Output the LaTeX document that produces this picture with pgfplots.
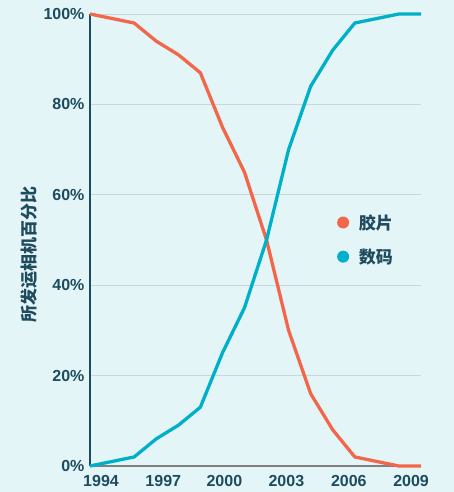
\documentclass[border=0pt]{standalone}
\usepackage{pgfplots}
\pgfplotsset{compat=1.18}
\usepackage{fontspec}
\setmainfont{Liberation Sans}
\newfontfamily\cjk{Noto Sans CJK SC}
\definecolor{bg}{HTML}{E4F5F8}
\definecolor{ink}{HTML}{1E4B5E}
\definecolor{film}{HTML}{F2674A}
\definecolor{digi}{HTML}{00B0C8}
\definecolor{gridc}{HTML}{C9D6DA}

\pgfplotstableread{
year film digital
1994 100 0
1995 99 1
1996 98 2
1997 94 6
1998 91 9
1999 87 13
2000 75 25
2001 65 35
2002 50 50
2003 30 70
2004 16 84
2005 8 92
2006 2 98
2007 1 99
2008 0 100
2009 0 100
}\shares

\begin{document}
\begin{tikzpicture}
\fill[bg] (0,0) rectangle (454pt,492pt);
\useasboundingbox (0,0) rectangle (454pt,492pt);
\begin{axis}[
  at={(90pt,26pt)}, anchor=south west,
  scale only axis, width=331pt, height=452pt,
  xmin=1994, xmax=2009, ymin=0, ymax=100,
  clip=false,
  axis lines=left, axis line style={-},
  x axis line style={color=gray, line width=1.5pt},
  y axis line style={color=ink, line width=1.5pt},
  major tick length=0pt,
  xtick={1994.5,1997.32,2000.09,2002.9,2005.73,2008.55},
  xticklabels={1994,1997,2000,2003,2006,2009},
  ytick={0,20,40,60,80,100},
  yticklabels={0\%,20\%,40\%,60\%,80\%,100\%},
  ymajorgrids, grid style={color=gridc, line width=0.8pt},
  tick label style={color=ink, font=\fontsize{16}{18}\selectfont\bfseries},
  xticklabel style={yshift=-6pt},
  yticklabel style={xshift=-2pt},
  ylabel={\cjk\bfseries 所发运相机百分比},
  ylabel style={color=ink, font=\fontsize{17}{19}\selectfont, at={(axis description cs:-0.184,0.467)}, anchor=center},
  legend image code/.code={\fill[#1,draw=none] (-7pt,0pt) circle (6pt); \path (5pt,0pt);},
  legend style={draw=none, fill=none, at={(axis description cs:0.74,0.501)}, anchor=west, xshift=-1pt,
    font=\cjk\bfseries\fontsize{17}{19}\selectfont, text=ink, row sep=14pt},
  legend cell align=left,
]
\addplot[film, line width=3.3pt] table[x=year, y=film] {\shares};
\addlegendentry{胶片}
\addplot[digi, line width=3.3pt] table[x=year, y=digital] {\shares};
\addlegendentry{数码}
\end{axis}
\end{tikzpicture}
\end{document}
